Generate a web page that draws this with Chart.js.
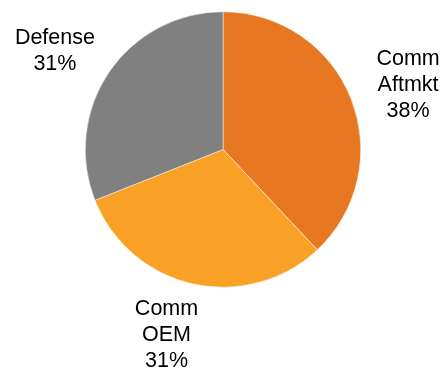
<!DOCTYPE html>
<html lang="en">
<head>
    <meta charset="UTF-8">
    <title>Revenue Mix</title>
    <script src="https://cdn.jsdelivr.net/npm/chart.js"></script>
    <style>
        html, body { margin: 0; padding: 0; background: #fff; }
        #wrap { width: 444px; height: 370px; }
    </style>
</head>
<body>
    <div id="wrap"><canvas id="pieChart"></canvas></div>
    <script>
        const categories = ['Comm\nAftmkt', 'Comm\nOEM', 'Defense'];
        const shares = [38, 31, 31];  // percent
        const sliceColors = ['#E87722', '#F9A026', '#808080'];

        // label nudges (px) relative to the mid-angle anchor
        const labelNudge = [[4, 7], [-14, -4], [-7, 11]];

        const outsideLabels = {
            id: 'outsideLabels',
            afterDatasetsDraw(chart) {
                const ctx = chart.ctx;
                const arcs = chart.getDatasetMeta(0).data;
                ctx.save();
                ctx.font = '21.5px "Liberation Sans", Arial, sans-serif';
                ctx.fillStyle = '#000';
                ctx.textAlign = 'center';
                ctx.textBaseline = 'middle';
                const lineH = 26;
                arcs.forEach((arc, i) => {
                    const mid = (arc.startAngle + arc.endAngle) / 2;
                    const r = arc.outerRadius + 57;
                    const x = arc.x + Math.cos(mid) * r + labelNudge[i][0];
                    const y = arc.y + Math.sin(mid) * r + labelNudge[i][1];
                    const lines = categories[i].split('\n').concat(shares[i] + '%');
                    const top = y - (lines.length - 1) * lineH / 2;
                    lines.forEach((t, k) => ctx.fillText(t, x, top + k * lineH));
                });
                ctx.restore();
            }
        };

        new Chart(document.getElementById('pieChart'), {
            type: 'pie',
            data: {
                labels: categories,
                datasets: [{
                    data: shares,
                    backgroundColor: sliceColors,
                    borderColor: '#ffffff',
                    borderWidth: 0.5
                }]
            },
            options: {
                responsive: true,
                maintainAspectRatio: false,
                animation: false,
                layout: { padding: { top: 11, bottom: 82, left: 85, right: 83 } },
                plugins: {
                    legend: { display: false },
                    tooltip: { enabled: false }
                }
            },
            plugins: [outsideLabels]
        });
    </script>
</body>
</html>
